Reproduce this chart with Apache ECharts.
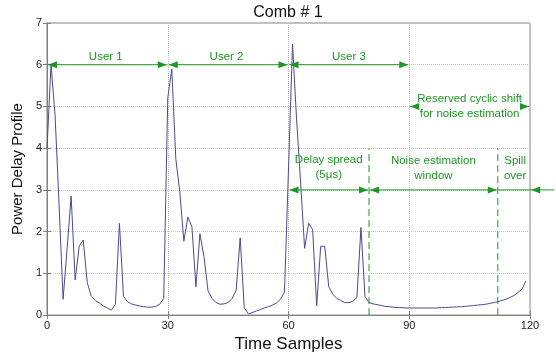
<!DOCTYPE html>
<html><head><meta charset="utf-8">
<script src="https://cdn.jsdelivr.net/npm/echarts@6/dist/echarts.min.js"></script>
<style>html,body{margin:0;padding:0;background:#fff}#c{width:556px;height:358px}</style>
</head><body><div id="c"></div>
<script>
// ---- data ----
const titleText = 'Comb # 1';
const xAxisName = 'Time Samples';
const yAxisName = 'Power Delay Profile';
const xTickValues = [0, 30, 60, 90, 120];
const yTickValues = [0, 1, 2, 3, 4, 5, 6, 7];
const powerDelayProfile = [
  4.0, 6.0, 4.8, 2.65, 0.38, 1.6, 2.85, 0.84, 1.65, 1.8,
  0.78, 0.45, 0.35, 0.29, 0.22, 0.17, 0.12, 0.26, 2.2, 0.45,
  0.32, 0.27, 0.24, 0.22, 0.2, 0.19, 0.19, 0.21, 0.26, 0.4,
  5.2, 5.9, 3.75, 2.95, 1.77, 2.35, 2.12, 0.68, 1.95, 1.4,
  0.58, 0.4, 0.3, 0.26, 0.27, 0.3, 0.4, 0.6, 1.85, 0.18,
  0.03, 0.06, 0.1, 0.13, 0.17, 0.2, 0.24, 0.29, 0.38, 0.55,
  3.5, 6.5, 4.7, 3.2, 1.6, 2.2, 2.05, 0.22, 1.65, 1.65,
  0.68, 0.5, 0.4, 0.35, 0.3, 0.3, 0.33, 0.42, 2.1, 0.45,
  0.3, 0.27, 0.25, 0.23, 0.21, 0.2, 0.19, 0.18, 0.18, 0.17,
  0.17, 0.17, 0.17, 0.17, 0.17, 0.17, 0.17, 0.17, 0.18, 0.18,
  0.19, 0.19, 0.2, 0.2, 0.21, 0.22, 0.23, 0.24, 0.25, 0.26,
  0.28, 0.3, 0.32, 0.35, 0.38, 0.42, 0.47, 0.54, 0.62, 0.82
];
const sampleIndex = powerDelayProfile.map((v, i) => i);

// annotation definitions (data coordinates)
const userArrows = [[0, 30, 6], [30, 60, 6], [60, 90, 6]];
const userLabels = [['User 1', 14.6, 6.2], ['User 2', 44.6, 6.2], ['User 3', 75, 6.2]];
const reservedArrow = [90, 120, 5];
const reservedLabel = ['Reserved cyclic shift\nfor noise estimation', 105, 5.0];
const windowArrows = [[60, 80, 3], [80, 112, 3]];
const windowLabels = [['Delay spread\n(5\u03bcs)', 70, 3.54], ['Noise estimation\nwindow', 96, 3.52], ['Spill\nover', 116.3, 3.52]];
const dashedMarkers = [[80, 0, 4], [112, 0, 4]];
const spillLine = [112, 126, 3, 120.3];

const green = '#1e9622';
const font = 'Liberation Sans, Arial, sans-serif';

const chart = echarts.init(document.getElementById('c'), null, {renderer: 'canvas'});
const axisGray = '#808080';
const option = {
  animation: false,
  backgroundColor: '#fff',
  title: {
    text: titleText, left: 288, top: 5, padding: 0, textAlign: 'center',
    textStyle: {fontFamily: font, fontSize: 16, fontWeight: 'normal', color: '#111'}
  },
  grid: {left: 47, top: 23, width: 483, height: 301, show: true, borderColor: axisGray, borderWidth: 1},
  xAxis: [{
    type: 'value', min: xTickValues[0], max: xTickValues[xTickValues.length - 1], interval: 30,
    name: xAxisName, nameLocation: 'middle', nameGap: 17,
    nameTextStyle: {fontFamily: font, fontSize: 17, color: '#111'},
    axisLine: {show: true, lineStyle: {color: axisGray}},
    axisTick: {show: true, inside: true, length: 4, lineStyle: {color: axisGray}},
    axisLabel: {fontFamily: font, fontSize: 11, color: '#222', margin: 5},
    splitLine: {show: true, lineStyle: {color: '#c4c4c4', type: 'dotted'}}
  }, {
    type: 'value', position: 'top', min: 0, max: 120, interval: 30,
    axisLine: {show: true, lineStyle: {color: axisGray}},
    axisTick: {show: true, inside: true, length: 4, lineStyle: {color: axisGray}},
    axisLabel: {show: false}, splitLine: {show: false}
  }],
  yAxis: [{
    type: 'value', min: yTickValues[0], max: yTickValues[yTickValues.length - 1], interval: 1,
    name: yAxisName, nameLocation: 'middle', nameGap: 18, nameRotate: 90,
    nameTextStyle: {fontFamily: font, fontSize: 15, color: '#111'},
    axisLine: {show: true, lineStyle: {color: axisGray}},
    axisTick: {show: true, inside: true, length: 4, lineStyle: {color: axisGray}},
    axisLabel: {fontFamily: font, fontSize: 11, color: '#222', margin: 5},
    splitLine: {show: true, lineStyle: {color: '#c4c4c4', type: 'dotted'}}
  }, {
    type: 'value', position: 'right', min: 0, max: 7, interval: 1,
    axisLine: {show: true, lineStyle: {color: axisGray}},
    axisTick: {show: true, inside: true, length: 4, lineStyle: {color: axisGray}},
    axisLabel: {show: false}, splitLine: {show: false}
  }],
  series: [{
    type: 'line', xAxisIndex: 0, yAxisIndex: 0,
    data: sampleIndex.map((x, i) => [x, powerDelayProfile[i]]),
    showSymbol: false, symbol: 'none',
    lineStyle: {color: '#4a4a90', width: 1}, z: 3
  }]
};
chart.setOption(option);

function P(x, y) { return chart.convertToPixel({gridIndex: 0}, [x, y]); }
const G = [];
function line(a, b, z, dash) {
  G.push({type: 'line', silent: true, z: z || 5,
    shape: {x1: a[0], y1: a[1], x2: b[0], y2: b[1]},
    style: {stroke: green, lineWidth: 1, lineDash: dash || null}});
}
function head(tip, dir) {
  const L = 9, W = 3.5;
  G.push({type: 'polygon', silent: true, z: 8,
    shape: {points: [[tip[0], tip[1]], [tip[0] - dir * L, tip[1] - W], [tip[0] - dir * L, tip[1] + W]]},
    style: {fill: green}});
}
function arrow(x1, x2, y) {
  const a = P(x1, y), b = P(x2, y);
  a[0] += 1; b[0] -= 1;
  line(a, b, 5);
  head(a, -1); head(b, 1);
}
function label(t, x, y, bg) {
  const p = P(x, y);
  const st = {text: t, x: p[0], y: p[1], align: 'center', verticalAlign: 'middle',
    textAlign: 'center', textVerticalAlign: 'middle',
    font: '11.5px ' + font, fill: green, lineHeight: 14.5};
  if (bg) { st.backgroundColor = '#fff'; st.padding = [0, 0]; }
  G.push({type: 'text', silent: true, z: 7, style: st});
}
userArrows.forEach(a => arrow(a[0], a[1], a[2]));
userLabels.forEach(l => label(l[0], l[1], l[2]));
arrow(reservedArrow[0], reservedArrow[1], reservedArrow[2]);
label(reservedLabel[0], reservedLabel[1], reservedLabel[2], true);
windowArrows.forEach(a => arrow(a[0], a[1], a[2]));
windowLabels.forEach(l => label(l[0], l[1], l[2]));
dashedMarkers.forEach(d => line(P(d[0], d[1]), P(d[0], d[2]), 4, [7, 4]));
(function () {
  const a = P(spillLine[0], spillLine[2]), b = P(spillLine[1], spillLine[2]);
  line(a, b, 5);
  head(P(spillLine[3], spillLine[2]), -1);
})();
chart.setOption({graphic: G});
</script>
</body></html>
